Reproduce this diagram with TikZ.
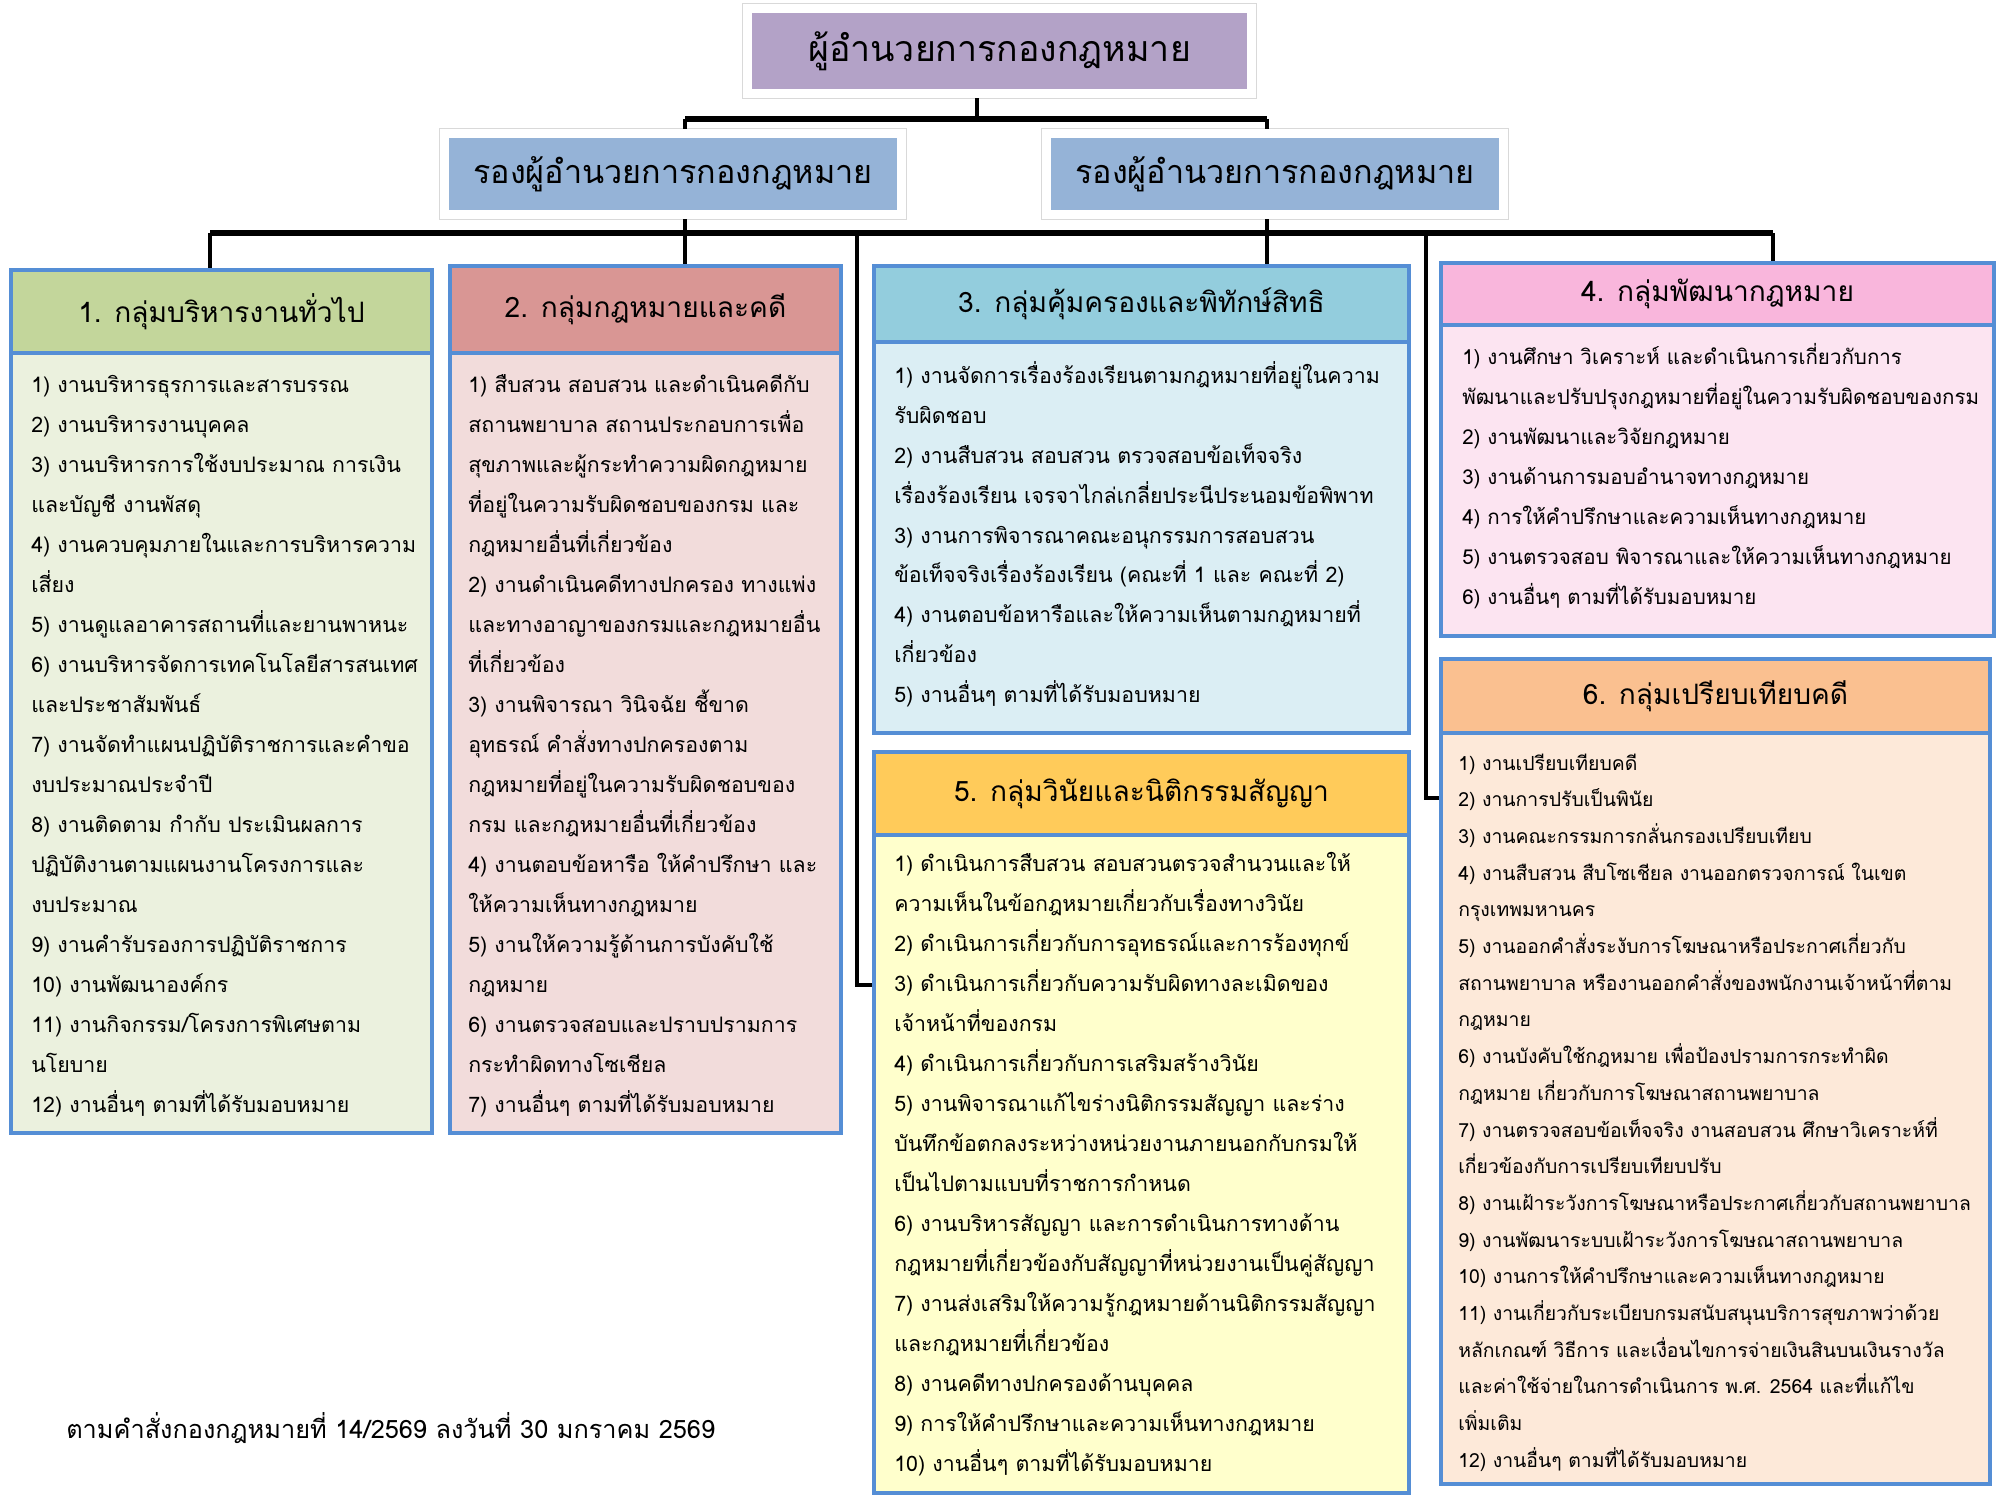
\documentclass[tikz,border=0pt]{standalone}
\usepackage{fontspec}
\newfontfamily\thaifont[Script=Thai]{Loma}
\usetikzlibrary{positioning}

\definecolor{grpblue}{HTML}{558ED5}
\definecolor{bosscol}{HTML}{B3A2C7}
\definecolor{depcol}{HTML}{95B3D7}
\definecolor{gAhead}{HTML}{C3D69B}
\definecolor{gAbody}{HTML}{EBF1DE}
\definecolor{gBhead}{HTML}{D99694}
\definecolor{gBbody}{HTML}{F2DCDB}
\definecolor{gChead}{HTML}{93CDDD}
\definecolor{gCbody}{HTML}{DBEEF4}
\definecolor{gDhead}{HTML}{F9B6DC}
\definecolor{gDbody}{HTML}{FCE4F1}
\definecolor{gEhead}{HTML}{FFCB5A}
\definecolor{gEbody}{HTML}{FFFFCC}
\definecolor{gFhead}{HTML}{FAC090}
\definecolor{gFbody}{HTML}{FDE9D9}

\newcommand{\itemfont}{\thaifont\fontsize{15.2}{15.2}\selectfont}
\newcommand{\smallitemfont}{\thaifont\fontsize{13.8}{13.8}\selectfont}
\newcommand{\headfont}{\thaifont\fontsize{20}{20}\selectfont}

\tikzset{
  chiefbox/.style={fill=#1, draw=white, line width=2.25mm, inner sep=0,
    preaction={draw=black!15, line width=2.6mm}},
  grpbody/.style={fill=#1, draw=grpblue, line width=1mm, inner sep=0, anchor=north west},
  grphead/.style={fill=#1, draw=grpblue, line width=1mm, inner sep=0, anchor=north west, font=\headfont},
  itemline/.style={anchor=base west, inner sep=0, font=\itemfont},
  stem/.style={draw=black, line width=0.9mm},
  bar/.style={draw=black, line width=1.5mm},
}

\begin{document}
\begin{tikzpicture}[x=0.25mm,y=-0.25mm]
\useasboundingbox (0,0) rectangle (2000,1500);

% director and deputies
\node[chiefbox=bosscol, minimum width=126mm, minimum height=21.25mm,
  font=\thaifont\fontsize{25.4}{25.4}\selectfont] (boss) at (999.5,51) {ผู้อำนวยการกองกฎหมาย};
\node[chiefbox=depcol, minimum width=114.25mm, minimum height=20.25mm,
  font=\thaifont\fontsize{23}{23}\selectfont] (dep1) at (673,174) {รองผู้อำนวยการกองกฎหมาย};
\node[chiefbox=depcol, minimum width=114.25mm, minimum height=20.25mm,
  font=\thaifont\fontsize{23}{23}\selectfont] (dep2) at (1275,174) {รองผู้อำนวยการกองกฎหมาย};

% groups
\node[grpbody=gAbody, minimum width=105.25mm, minimum height=215.75mm] (g1) at (9,268) {};
\node[grphead=gAhead, minimum width=105.25mm, minimum height=20.75mm] (g1h) at (g1.north west) {1. กลุ่มบริหารงานทั่วไป};
\node[grpbody=gBbody, minimum width=97.75mm, minimum height=216.75mm] (g2) at (448,264) {};
\node[grphead=gBhead, minimum width=97.75mm, minimum height=21.75mm] (g2h) at (g2.north west) {2. กลุ่มกฎหมายและคดี};
\node[grpbody=gCbody, minimum width=133.75mm, minimum height=116.75mm] (g3) at (872,264) {};
\node[grphead=gChead, minimum width=133.75mm, minimum height=19mm] (g3h) at (g3.north west) {3. กลุ่มคุ้มครองและพิทักษ์สิทธิ};
\node[grpbody=gDbody, minimum width=138.25mm, minimum height=93.25mm] (g4) at (1439,261) {};
\node[grphead=gDhead, minimum width=138.25mm, minimum height=15.5mm] (g4h) at (g4.north west) {4. กลุ่มพัฒนากฎหมาย};
\node[grpbody=gEbody, minimum width=133.75mm, minimum height=185.25mm] (g5) at (872,750) {};
\node[grphead=gEhead, minimum width=133.75mm, minimum height=20.75mm] (g5h) at (g5.north west) {5. กลุ่มวินัยและนิติกรรมสัญญา};
\node[grpbody=gFbody, minimum width=137.25mm, minimum height=206.25mm] (g6) at (1439,657) {};
\node[grphead=gFhead, minimum width=137.25mm, minimum height=18.5mm] (g6h) at (g6.north west) {6. กลุ่มเปรียบเทียบคดี};

% duties
\foreach \t [count=\i] in {{1) งานบริหารธุรการและสารบรรณ},{2) งานบริหารงานบุคคล},
  {3) งานบริหารการใช้งบประมาณ การเงิน},{และบัญชี งานพัสดุ},
  {4) งานควบคุมภายในและการบริหารความ},{เสี่ยง},
  {5) งานดูแลอาคารสถานที่และยานพาหนะ},{6) งานบริหารจัดการเทคโนโลยีสารสนเทศ},
  {และประชาสัมพันธ์},{7) งานจัดทำแผนปฏิบัติราชการและคำขอ},{งบประมาณประจำปี},
  {8) งานติดตาม กำกับ ประเมินผลการ},{ปฏิบัติงานตามแผนงานโครงการและ},{งบประมาณ},
  {9) งานคำรับรองการปฏิบัติราชการ},{10) งานพัฒนาองค์กร},
  {11) งานกิจกรรม/โครงการพิเศษตาม},{นโยบาย},{12) งานอื่นๆ ตามที่ได้รับมอบหมาย}}
  \node[itemline] (g1-\i) at (31,{352.5+40*\i}) {\t};

\foreach \t [count=\i] in {{1) สืบสวน สอบสวน และดำเนินคดีกับ},{สถานพยาบาล สถานประกอบการเพื่อ},
  {สุขภาพและผู้กระทำความผิดกฎหมาย},{ที่อยู่ในความรับผิดชอบของกรม และ},
  {กฎหมายอื่นที่เกี่ยวข้อง},{2) งานดำเนินคดีทางปกครอง ทางแพ่ง},
  {และทางอาญาของกรมและกฎหมายอื่น},{ที่เกี่ยวข้อง},{3) งานพิจารณา วินิจฉัย ชี้ขาด},
  {อุทธรณ์ คำสั่งทางปกครองตาม},{กฎหมายที่อยู่ในความรับผิดชอบของ},
  {กรม และกฎหมายอื่นที่เกี่ยวข้อง},{4) งานตอบข้อหารือ ให้คำปรึกษา และ},
  {ให้ความเห็นทางกฎหมาย},{5) งานให้ความรู้ด้านการบังคับใช้},{กฎหมาย},
  {6) งานตรวจสอบและปราบปรามการ},{กระทำผิดทางโซเชียล},{7) งานอื่นๆ ตามที่ได้รับมอบหมาย}}
  \node[itemline] (g2-\i) at (468,{352.5+40*\i}) {\t};

\foreach \t [count=\i] in {{1) งานจัดการเรื่องร้องเรียนตามกฎหมายที่อยู่ในความ},{รับผิดชอบ},
  {2) งานสืบสวน สอบสวน ตรวจสอบข้อเท็จจริง},
  {เรื่องร้องเรียน เจรจาไกล่เกลี่ยประนีประนอมข้อพิพาท},
  {3) งานการพิจารณาคณะอนุกรรมการสอบสวน},
  {ข้อเท็จจริงเรื่องร้องเรียน (คณะที่ 1 และ คณะที่ 2)},
  {4) งานตอบข้อหารือและให้ความเห็นตามกฎหมายที่},{เกี่ยวข้อง},
  {5) งานอื่นๆ ตามที่ได้รับมอบหมาย}}
  \node[itemline] (g3-\i) at (894,{343.5+39.9*\i}) {\t};

\foreach \t [count=\i] in {{1) งานศึกษา วิเคราะห์ และดำเนินการเกี่ยวกับการ},
  {พัฒนาและปรับปรุงกฎหมายที่อยู่ในความรับผิดชอบของกรม},
  {2) งานพัฒนาและวิจัยกฎหมาย},{3) งานด้านการมอบอำนาจทางกฎหมาย},
  {4) การให้คำปรึกษาและความเห็นทางกฎหมาย},
  {5) งานตรวจสอบ พิจารณาและให้ความเห็นทางกฎหมาย},{6) งานอื่นๆ ตามที่ได้รับมอบหมาย}}
  \node[itemline, font=\thaifont\fontsize{14.6}{14.6}\selectfont] (g4-\i) at (1462,{324.5+40*\i}) {\t};

\foreach \t [count=\i] in {{1) ดำเนินการสืบสวน สอบสวนตรวจสำนวนและให้},
  {ความเห็นในข้อกฎหมายเกี่ยวกับเรื่องทางวินัย},
  {2) ดำเนินการเกี่ยวกับการอุทธรณ์และการร้องทุกข์},
  {3) ดำเนินการเกี่ยวกับความรับผิดทางละเมิดของ},{เจ้าหน้าที่ของกรม},
  {4) ดำเนินการเกี่ยวกับการเสริมสร้างวินัย},
  {5) งานพิจารณาแก้ไขร่างนิติกรรมสัญญา และร่าง},
  {บันทึกข้อตกลงระหว่างหน่วยงานภายนอกกับกรมให้},{เป็นไปตามแบบที่ราชการกำหนด},
  {6) งานบริหารสัญญา และการดำเนินการทางด้าน},
  {กฎหมายที่เกี่ยวข้องกับสัญญาที่หน่วยงานเป็นคู่สัญญา},
  {7) งานส่งเสริมให้ความรู้กฎหมายด้านนิติกรรมสัญญา},{และกฎหมายที่เกี่ยวข้อง},
  {8) งานคดีทางปกครองด้านบุคคล},{9) การให้คำปรึกษาและความเห็นทางกฎหมาย},
  {10) งานอื่นๆ ตามที่ได้รับมอบหมาย}}
  \node[itemline] (g5-\i) at (894,{831+40.05*\i}) {\t};

\foreach \t [count=\i] in {{1) งานเปรียบเทียบคดี},{2) งานการปรับเป็นพินัย},
  {3) งานคณะกรรมการกลั่นกรองเปรียบเทียบ},
  {4) งานสืบสวน สืบโซเชียล งานออกตรวจการณ์ ในเขต},{กรุงเทพมหานคร},
  {5) งานออกคำสั่งระงับการโฆษณาหรือประกาศเกี่ยวกับ},
  {สถานพยาบาล หรืองานออกคำสั่งของพนักงานเจ้าหน้าที่ตาม},{กฎหมาย},
  {6) งานบังคับใช้กฎหมาย เพื่อป้องปรามการกระทำผิด},
  {กฎหมาย เกี่ยวกับการโฆษณาสถานพยาบาล},
  {7) งานตรวจสอบข้อเท็จจริง งานสอบสวน ศึกษาวิเคราะห์ที่},
  {เกี่ยวข้องกับการเปรียบเทียบปรับ},
  {8) งานเฝ้าระวังการโฆษณาหรือประกาศเกี่ยวกับสถานพยาบาล},
  {9) งานพัฒนาระบบเฝ้าระวังการโฆษณาสถานพยาบาล},
  {10) งานการให้คำปรึกษาและความเห็นทางกฎหมาย},
  {11) งานเกี่ยวกับระเบียบกรมสนับสนุนบริการสุขภาพว่าด้วย},
  {หลักเกณฑ์ วิธีการ และเงื่อนไขการจ่ายเงินสินบนเงินรางวัล},
  {และค่าใช้จ่ายในการดำเนินการ พ.ศ. 2564 และที่แก้ไข},{เพิ่มเติม},
  {12) งานอื่นๆ ตามที่ได้รับมอบหมาย}}
  \node[itemline, font=\smallitemfont] (g6-\i) at (1458,{733.3+36.7*\i}) {\t};

\node[itemline, font=\thaifont\fontsize{18}{18}\selectfont] (note) at (66,1438) {ตามคำสั่งกองกฎหมายที่ 14/2569 ลงวันที่ 30 มกราคม 2569};

% connectors
\coordinate (t0) at (977,119);
\coordinate (t1) at (685,119);
\coordinate (t2) at (1267,119);
\draw[stem] (boss.south -| t0) -- (t0);
\draw[bar] (t1) -- (t2);
\draw[stem] (t1) -- (t1 |- dep1.north);
\draw[stem] (t2) -- (t2 |- dep2.north);

\coordinate (s1) at (210,233);
\coordinate (s2) at (685,233);
\coordinate (s3) at (857,233);
\coordinate (s4) at (1267,233);
\coordinate (s5) at (1426,233);
\coordinate (s6) at (1773,233);
\coordinate (k5) at (857,985);
\coordinate (k6) at (1426,798);
\draw[stem] (dep1.south -| s2) -- (s2);
\draw[stem] (dep2.south -| s4) -- (s4);
\draw[bar] (s1) -- (s6);
\draw[stem] (s1) -- (s1 |- g1.north);
\draw[stem] (s2) -- (s2 |- g2.north);
\draw[stem] (s4) -- (s4 |- g3.north);
\draw[stem] (s6) -- (s6 |- g4.north);
\draw[stem] (s3) -- (k5) -- (k5 -| g5.west);
\draw[stem] (s5) -- (k6) -- (k6 -| g6.west);
\end{tikzpicture}
\end{document}
